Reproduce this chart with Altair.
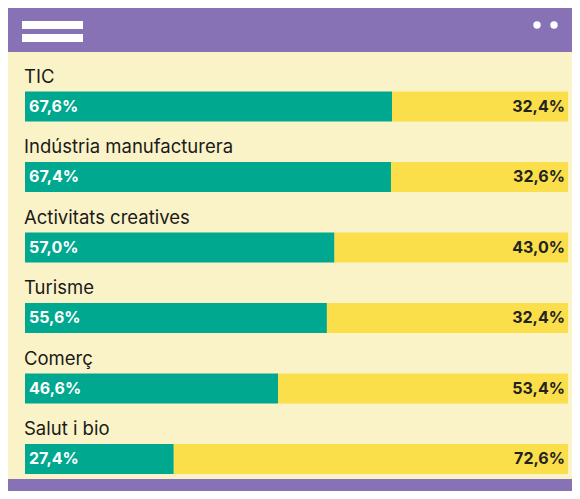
import altair as alt
import pandas as pd

categories = ["TIC", "Indústria manufacturera", "Activitats creatives", "Turisme", "Comerç", "Salut i bio"]
green_values = [67.6, 67.4, 57.0, 55.6, 46.6, 27.4]
green_labels = ["67,6%", "67,4%", "57,0%", "55,6%", "46,6%", "27,4%"]
yellow_labels = ["32,4%", "32,6%", "43,0%", "32,4%", "53,4%", "72,6%"]

W, H = 564, 483
PURPLE = "#8672B4"
BG = "#FAF3C8"
GREEN = "#00A88F"
YELLOW = "#FADF4A"
FONT = "Inter"

df = pd.DataFrame({
    "cat": categories,
    "start": [0] * len(categories),
    "green": green_values,
    "end": [100] * len(categories),
    "gl": green_labels,
    "yl": yellow_labels,
})

xs = alt.Scale(domain=[0, 100], range=[17, 560], nice=False)
ys = alt.Scale(type="point", domain=categories, range=[98.5, 451], padding=0)

one = alt.Data(values=[{"a": 1}])

def rect(x1, x2, y1, y2, color):
    return alt.Chart(one).mark_rect(color=color).encode(
        x=alt.value(x1), x2=alt.value(x2), y=alt.value(y1), y2=alt.value(y2)
    )

top = rect(0, W, 0, 44, PURPLE)
bottom = rect(0, W, 471, H, PURPLE)
ham1 = rect(14, 75, 13, 21, "white")
ham2 = rect(14, 75, 26, 34, "white")
dot1 = alt.Chart(one).mark_circle(color="white", opacity=1, size=55).encode(x=alt.value(529), y=alt.value(17))
dot2 = alt.Chart(one).mark_circle(color="white", opacity=1, size=55).encode(x=alt.value(546), y=alt.value(17))

base = alt.Chart(df)
ybar = alt.Y("cat:N", scale=ys, axis=None)

gbar = base.mark_bar(height=30, color=GREEN).encode(
    x=alt.X("start:Q", scale=xs, axis=None), x2="green:Q", y=ybar
)
ybar2 = base.mark_bar(height=30, color=YELLOW).encode(
    x=alt.X("green:Q", scale=xs, axis=None), x2="end:Q", y=ybar
)
catlab = base.mark_text(align="left", baseline="middle", dy=-30, dx=-1, font=FONT, fontSize=18.5, color="#1a1a1a").encode(
    x=alt.X("start:Q", scale=xs, axis=None), y=ybar, text="cat:N"
)
glab = base.mark_text(align="left", baseline="middle", dx=4, font=FONT, fontSize=16, fontWeight="bold", color="white").encode(
    x=alt.X("start:Q", scale=xs, axis=None), y=ybar, text="gl:N"
)
ylab = base.mark_text(align="right", baseline="middle", dx=-3, font=FONT, fontSize=16, fontWeight="bold", color="#222222").encode(
    x=alt.X("end:Q", scale=xs, axis=None), y=ybar, text="yl:N"
)

chart = alt.layer(
    top, bottom, ham1, ham2, dot1, dot2, gbar, ybar2, catlab, glab, ylab
).properties(
    width=W, height=H, padding=0, background=BG,
    autosize=alt.AutoSizeParams(type="fit", contains="padding"),
).configure_view(stroke=None)

chart.save("out.html", embed_options={"renderer": "svg", "actions": False})
